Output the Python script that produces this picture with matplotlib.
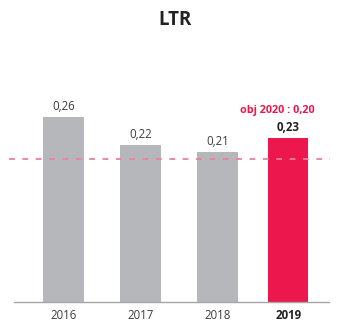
import matplotlib
matplotlib.use("Agg")
import matplotlib.pyplot as plt

years = ["2016", "2017", "2018", "2019"]
ltr = [0.26, 0.22, 0.21, 0.23]
target = 0.20
target_label = "obj 2020 : 0,20"

GREY = "#b6b7ba"
RED = "#ec174c"
TEXT = "#3c3c3c"

plt.rcParams["font.family"] = ["Open Sans", "DejaVu Sans"]

fig = plt.figure(figsize=(3.5, 3.34), dpi=100)
ax = fig.add_axes([0.04, 0.096, 0.9, 0.64])

# last bar sits a little closer to its neighbour
pos = [0, 1, 2, 2.92]
colors = [GREY] * (len(years) - 1) + [RED]
ax.bar(pos, ltr, width=0.52, color=colors, zorder=2)

ax.axhline(target, xmin=-0.016, xmax=1.003, color="#ef7f9c", lw=1.3,
           dashes=(3.2, 4.2), clip_on=False, zorder=3)

for i, (x, v) in enumerate(zip(pos, ltr)):
    last = i == len(ltr) - 1
    ax.annotate(f"{v:.2f}".replace(".", ","), (x, v), xytext=(0, 3),
                textcoords="offset points", ha="center", va="bottom",
                fontsize=8.3, color="#222222" if last else TEXT,
                fontweight="bold" if last else "normal")

ax.annotate(target_label, (pos[-1], ltr[-1]), xytext=(-8, 16),
            textcoords="offset points", ha="center", va="bottom",
            fontsize=7.8, color=RED, fontweight="bold")

ax.set_xlim(-0.643, 3.448)
ax.set_ylim(0, 0.3)
ax.set_xticks(pos)
ax.set_xticklabels(years)
for i, lab in enumerate(ax.get_xticklabels()):
    lab.set_color("#222222" if i == len(years) - 1 else TEXT)
    if i == len(years) - 1:
        lab.set_fontweight("bold")
ax.tick_params(axis="x", length=0, labelsize=8.3, pad=5)
ax.set_yticks([])
for side in ["top", "right", "left"]:
    ax.spines[side].set_visible(False)
ax.spines["bottom"].set_color("#a5a5a5")
ax.spines["bottom"].set_linewidth(1.0)

fig.text(0.5, 1 - 20 / 334, "LTR", ha="center", va="center",
         fontsize=13.5, fontweight="bold", color="#222222")

fig.savefig("out.png", dpi=100)
